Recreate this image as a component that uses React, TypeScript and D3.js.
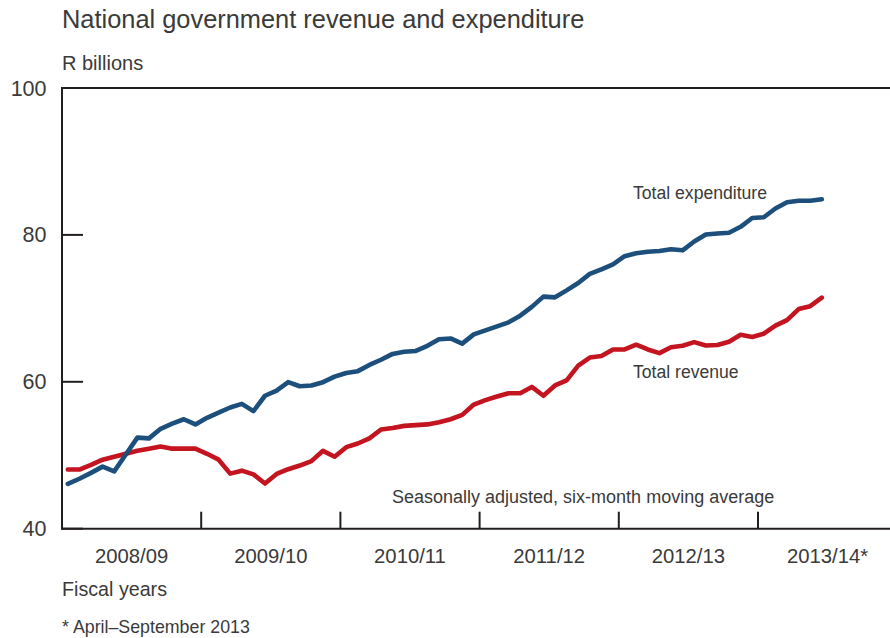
import React from "react";
import * as d3 from "d3";

const fiscalYears = ["2008/09", "2009/10", "2010/11", "2011/12", "2012/13", "2013/14*"];
const yTicks = [40, 60, 80, 100];

// Monthly values, April 2008 – September 2013 (R billions, six-month moving average)
const expenditure = [
  46.1, 46.8, 47.6, 48.45, 47.8, 50.1, 52.4, 52.3, 53.6, 54.3, 54.9, 54.2,
  55.1, 55.8, 56.5, 57.0, 56.0, 58.1, 58.8, 59.95, 59.4, 59.5, 59.95, 60.7,
  61.2, 61.45, 62.3, 63.0, 63.8, 64.1, 64.2, 64.9, 65.8, 65.9, 65.2, 66.45,
  67.0, 67.55, 68.1, 69.0, 70.2, 71.6, 71.5, 72.45, 73.45, 74.7, 75.3, 76.0,
  77.1, 77.5, 77.7, 77.8, 78.05, 77.9, 79.1, 80.05, 80.2, 80.3, 81.1, 82.3,
  82.4, 83.6, 84.45, 84.65, 84.65, 84.85,
];
const revenue = [
  48.05, 48.05, 48.7, 49.4, 49.8, 50.2, 50.6, 50.9, 51.2, 50.9, 50.9, 50.9,
  50.2, 49.4, 47.5, 47.9, 47.4, 46.15, 47.45, 48.1, 48.6, 49.2, 50.6, 49.8,
  51.1, 51.6, 52.3, 53.5, 53.7, 54.0, 54.1, 54.2, 54.5, 54.9, 55.5, 56.9,
  57.5, 58.0, 58.45, 58.45, 59.3, 58.1, 59.5, 60.2, 62.2, 63.3, 63.5, 64.4,
  64.4, 65.05, 64.4, 63.9, 64.7, 64.9, 65.4, 64.95, 65.0, 65.45, 66.4, 66.1,
  66.55, 67.65, 68.4, 69.9, 70.3, 71.45,
];

const W = 890;
const H = 638;
const left = 62;
const top = 88;
const bottom = 528.7;
const monthPx = 11.6;

const FONT = "'Liberation Sans', Arial, Helvetica, sans-serif";
const TEXT = "#3a3a3a";
const AXIS = "#231f20";

export default function App() {
  const x = d3.scaleLinear().domain([0, 72]).range([left, left + 72 * monthPx]);
  const y = d3.scaleLinear().domain([40, 100]).range([bottom, top]);
  const line = d3
    .line<number>()
    .x((_, i) => x(i + 0.5))
    .y((d) => y(d));

  const boundaries = d3.range(1, fiscalYears.length).map((k) => k * 12);

  return (
    <svg
      width={W}
      height={H}
      style={{ position: "absolute", left: 0, top: 0, background: "#fff" }}
      fontFamily={FONT}
    >
      <text x={62} y={28} fontSize={25.4} fill={TEXT}>
        National government revenue and expenditure
      </text>
      <text x={62} y={70} fontSize={20} fill={TEXT}>
        R billions
      </text>

      {/* y tick labels */}
      {yTicks.map((t) => (
        <text key={t} x={46.5} y={y(t) + 7.5} fontSize={21.5} fill={TEXT} textAnchor="end">
          {t}
        </text>
      ))}

      {/* lines */}
      <path d={line(revenue) || ""} fill="none" stroke="#c4141f" strokeWidth={4.6} strokeLinejoin="round" strokeLinecap="round" />
      <path d={line(expenditure) || ""} fill="none" stroke="#1c4f7c" strokeWidth={4.6} strokeLinejoin="round" strokeLinecap="round" />

      {/* frame */}
      <line x1={left} x2={W} y1={top} y2={top} stroke={AXIS} strokeWidth={2} />
      <line x1={left} x2={left} y1={top - 1} y2={bottom + 1} stroke={AXIS} strokeWidth={2} />
      <line x1={left - 1} x2={W} y1={bottom} y2={bottom} stroke={AXIS} strokeWidth={2} />

      {/* y ticks inward */}
      {yTicks.map((t) => (
        <line key={t} x1={left} x2={left + 21} y1={y(t)} y2={y(t)} stroke={AXIS} strokeWidth={2} />
      ))}

      {/* x ticks upward */}
      {boundaries.map((b) => (
        <line key={b} x1={x(b)} x2={x(b)} y1={bottom} y2={bottom - 17} stroke={AXIS} strokeWidth={2} />
      ))}

      {/* x labels */}
      {fiscalYears.map((fy, k) => (
        <text key={fy} x={x(k * 12 + 6)} y={563} fontSize={20.3} fill={TEXT} textAnchor="middle">
          {fy}
        </text>
      ))}

      <text x={633} y={199} fontSize={17.6} fill={TEXT}>
        Total expenditure
      </text>
      <text x={633} y={378} fontSize={17.6} fill={TEXT}>
        Total revenue
      </text>
      <text x={392} y={503} fontSize={18} fill={TEXT}>
        Seasonally adjusted, six-month moving average
      </text>

      <text x={62} y={596} fontSize={19.7} fill={TEXT}>
        Fiscal years
      </text>
      <text x={62} y={633} fontSize={17.8} fill={TEXT}>
        * April–September 2013
      </text>
    </svg>
  );
}
